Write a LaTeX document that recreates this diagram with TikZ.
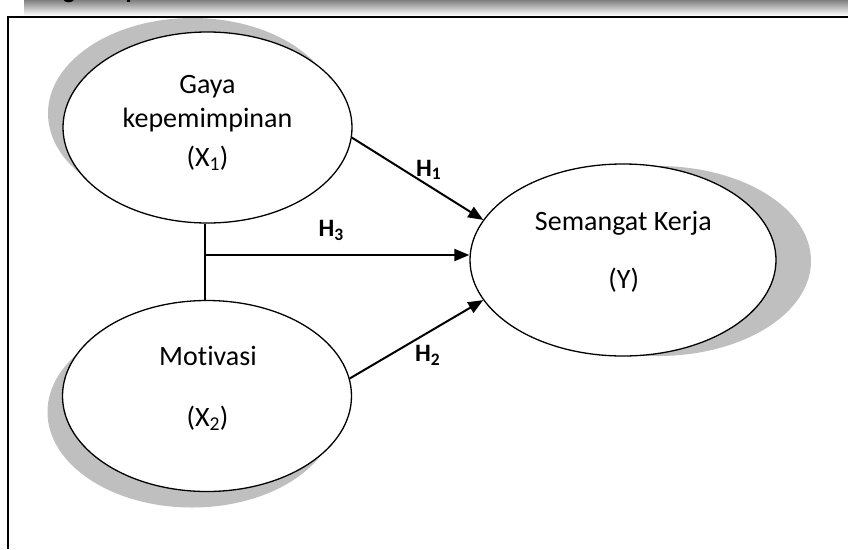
\documentclass[tikz,border=0pt]{standalone}
\usepackage{fontspec}
\setmainfont[RawFeature={-liga;-dlig}]{Carlito}
\usetikzlibrary{arrows.meta,shapes.geometric}
\definecolor{shade}{RGB}{191,191,191}
\begin{document}
\begin{tikzpicture}[x=1pt,y=-1pt,
  ell/.style={ellipse,draw=black,line width=1.3pt,fill=white,inner sep=0pt},
  shd/.style={ellipse,fill=shade,draw=none,inner sep=0pt},
  txt/.style={anchor=base,font=\fontsize{28}{34}\selectfont,inner sep=0pt},
  hlab/.style={anchor=base west,font=\fontsize{25}{30}\selectfont\bfseries,inner sep=0pt},
  arr/.style={line width=2pt,-{Triangle[length=15pt,width=12pt]}},
]
\useasboundingbox (0,0) rectangle (848,549);
\begin{scope}
\clip (0,0) rectangle (848,549);
\fill[shade] (24,0) rectangle (848,15.6);
\node[hlab,anchor=base] (tg) at (69,-2) {g};
\node[hlab] (tp) at (125.5,-2) {p};
\end{scope}
\draw[line width=1.4pt] (8,549) -- (8,16.8) -- (848,16.8);

% shadows
\node[shd,minimum width=289pt,minimum height=191pt] (s1) at (192.5,113.5) {};
\node[shd,minimum width=289pt,minimum height=191pt] (s2) at (192,412) {};
\node[shd,minimum width=306pt,minimum height=190pt] (s3) at (658,261) {};

% ellipses
\node[ell,minimum width=289pt,minimum height=191pt] (x1) at (207.5,127.5) {};
\node[ell,minimum width=289pt,minimum height=191pt] (x2) at (207,396) {};
\node[ell,minimum width=306pt,minimum height=192pt] (y) at (623,260) {};

% texts
\node[txt] (x1a) at (207.5,93.3) {Gaya};
\node[txt] (x1b) at (207.5,127.3) {kepemimpinan};
\node[txt] (x1c) at (207.5,166) {(X\textsubscript{1})};
\node[txt] (x2a) at (208,365) {Motivasi};
\node[txt] (x2b) at (207.5,426) {(X\textsubscript{2})};
\node[txt] (ya) at (623.3,230) {Semangat Kerja};
\node[txt] (yb) at (623.8,288.3) {(Y)};

% connectors
\draw[arr] (x1.356.2) -- (y.164.7);
\coordinate (j) at (205,255);
\draw[line width=1.6pt] (x1.south -| j) -- (x2.north -| j);
\draw[arr] (j) -- (j -| y.west);
\draw[arr] (x2.7) -- (y.196);

% labels
\node[hlab] (h1) at (416,176) {H\textsubscript{1}};
\node[hlab] (h3) at (318.3,236.7) {H\textsubscript{3}};
\node[hlab] (h2) at (415,361.7) {H\textsubscript{2}};
\end{tikzpicture}
\end{document}
